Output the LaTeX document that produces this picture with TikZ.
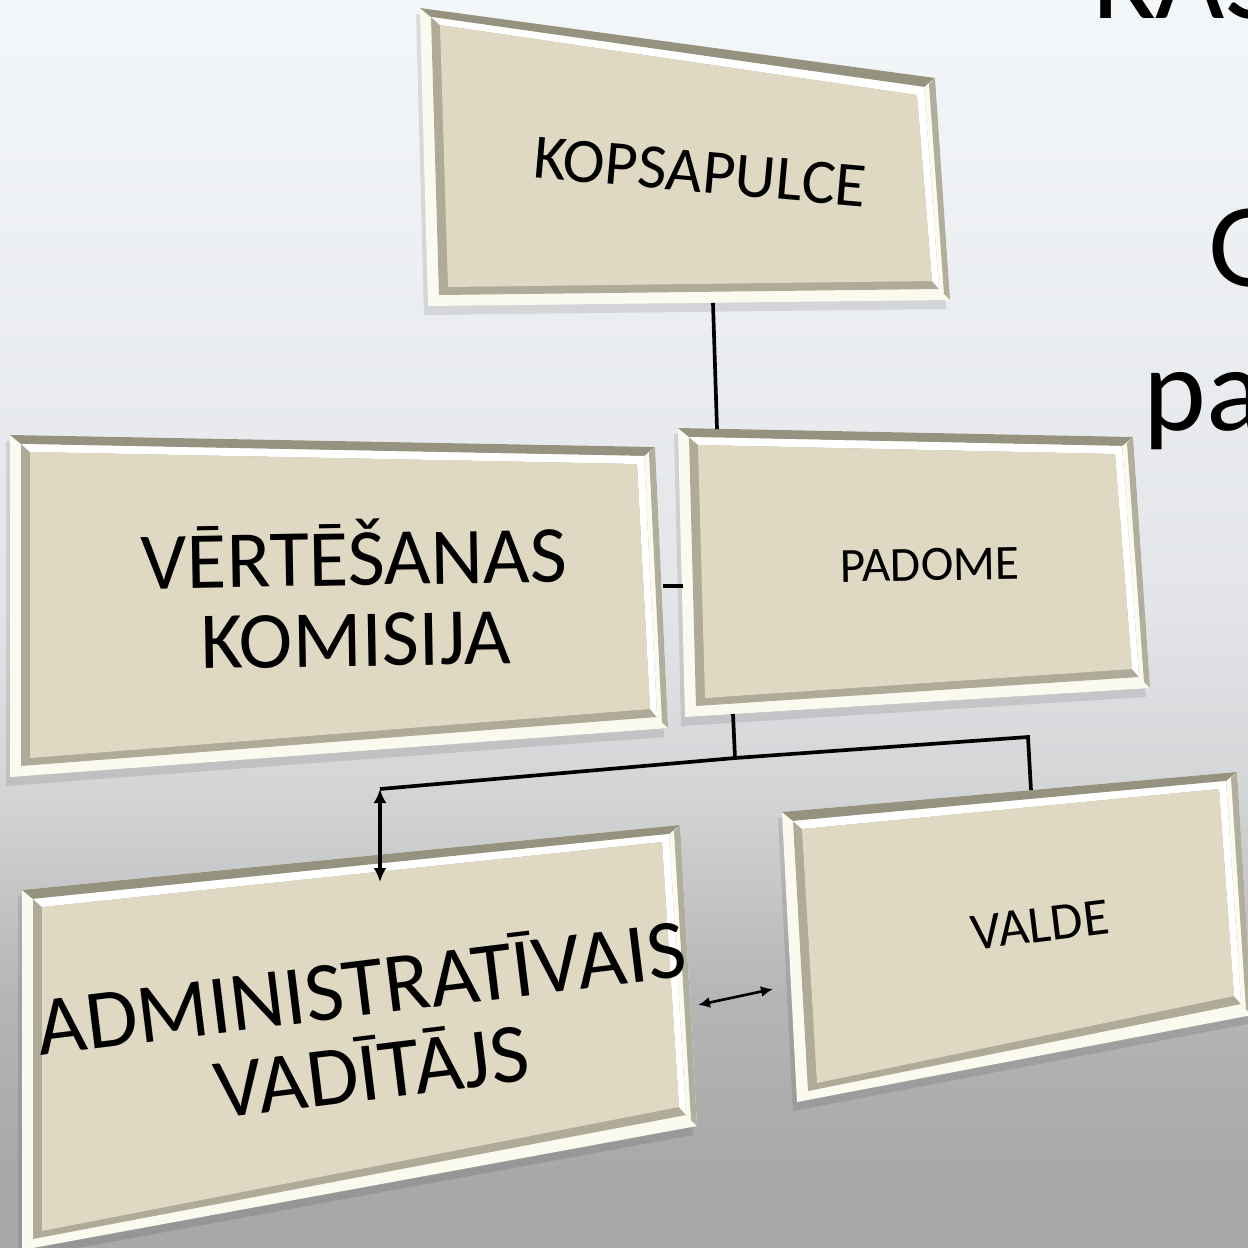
\documentclass[tikz,border=0pt]{standalone}
\usepackage{fontspec}
\setmainfont{Carlito}
\usetikzlibrary{calc,arrows.meta}

\definecolor{bgtop}{RGB}{244,247,250}
\definecolor{bgmid}{RGB}{227,229,232}
\definecolor{bglow}{RGB}{211,212,214}
\definecolor{bgdark}{RGB}{168,168,168}
\definecolor{framecream}{RGB}{251,250,238}
\definecolor{bandgray}{RGB}{150,146,128}
\definecolor{bandside}{RGB}{178,174,157}
\definecolor{beveldark}{RGB}{176,171,152}
\definecolor{panel}{RGB}{223,217,196}

\pgfdeclareverticalshading{slidebg}{100bp}{%
  color(0bp)=(bgdark); color(28bp)=(bgdark); color(35bp)=(bgdark!70!bglow);
  color(43bp)=(bglow); color(51bp)=(bgmid); color(75bp)=(bgtop); color(100bp)=(bgtop)}

% bevelled frame: name, top left, top right, bottom right, bottom left
\newcommand{\bevelbox}[5]{%
  \coordinate (#1-tl) at #2;
  \coordinate (#1-tr) at #3;
  \coordinate (#1-br) at #4;
  \coordinate (#1-bl) at #5;
  \fill[black, opacity=.10] ($(#1-tl)+(-4,6)$) -- ($(#1-tr)+(-4,6)$) -- ($(#1-br)+(-4,9)$) -- ($(#1-bl)+(-4,9)$) -- cycle;
  \fill[framecream] (#1-tl) -- (#1-tr) -- (#1-br) -- (#1-bl) -- cycle;
  \fill[bandgray] (#1-tl) -- (#1-tr) -- ($(#1-tr)+(-11,9)$) -- ($(#1-tl)+(11,9)$) -- cycle;
  \fill[bandside] (#1-tr) -- (#1-br) -- ($(#1-br)+(-6,-6)$) -- ($(#1-tr)+(-6,6)$) -- cycle;
  \fill[beveldark] ($(#1-tl)+(11,9)$) -- ($(#1-tr)+(-11,9)$) -- ($(#1-br)+(-11,-11)$) -- ($(#1-bl)+(11,-11)$) -- cycle;
  \fill[white] ($(#1-tl)+(11,9)$) -- ($(#1-tr)+(-11,9)$) -- ($(#1-br)+(-11,-11)$)
    -- ($(#1-br)+(-18,-19)$) -- ($(#1-tr)+(-18,17)$) -- ($(#1-tl)+(20,17)$) -- cycle;
  \fill[panel] ($(#1-tl)+(20,17)$) -- ($(#1-tr)+(-18,17)$) -- ($(#1-br)+(-18,-19)$) -- ($(#1-bl)+(20,-19)$) -- cycle;
}

\tikzset{
  boxtext/.style={text=black, inner sep=0pt, align=center},
  sidetext/.style={text=black, inner sep=0pt, anchor=base west, font=\fontsize{34}{34}\selectfont},
  conn/.style={line width=1.05pt},
  biarrow/.style={line width=1.05pt, {Latex[length=1.4mm,width=1.3mm]}-{Latex[length=1.4mm,width=1.3mm]}},
  sidearrow/.style={line width=0.75pt, {Latex[length=1.2mm,width=1.1mm]}-{Latex[length=1.2mm,width=1.1mm]}}
}

\begin{document}
\begin{tikzpicture}[x=0.01cm, y=-0.01cm]
      \useasboundingbox (0,0) rectangle (1248,1248);
      \clip (0,0) rectangle (1248,1248);

      % Background
      \shade[shading=slidebg] (0,0) rectangle (1248,1248);

      % Slide text behind the chart
      \node[sidetext] (kas) at (1093,18) {KAS};
      \node[sidetext] (gword) at (1208,286) {G};
      \node[sidetext] (paword) at (1143,430) {pa};

      % Boxes
      \bevelbox{kopbox}{(420,8)}{(935,78)}{(950,300)}{(428,306)}
      \bevelbox{padbox}{(678,428)}{(1133,437)}{(1150,688)}{(685,717)}
      \bevelbox{vertbox}{(10,435)}{(655,447)}{(668,728)}{(10,777)}
      \bevelbox{admbox}{(22,890)}{(680,825)}{(697,1126)}{(22,1250)}
      \bevelbox{valbox}{(782,812)}{(1237,772)}{(1252,1015)}{(797,1102)}

      % Labels
      \node[boxtext, rotate=-5, font=\fontsize{18}{18}\selectfont] (kop) at (700,172) {KOPSAPULCE};
      \node[boxtext, rotate=1, font=\fontsize{14}{14}\selectfont] (pad) at (930,565) {PADOME};
      \node[boxtext, rotate=1, font=\fontsize{23}{23}\selectfont] (vert) at (355,593) {VĒRTĒŠANAS\\KOMISIJA};
      \node[boxtext, rotate=7, font=\fontsize{24}{24}\selectfont] (admin) at (366,1026) {ADMINISTRATĪVAIS\\VADĪTĀJS};
      \node[boxtext, rotate=7, font=\fontsize{15}{15}\selectfont] (valde) at (1040,925) {VALDE};

      % Connection points
      \coordinate (kopdown) at (713,303);
      \coordinate (padup) at (717,429);
      \coordinate (vertright) at (663,586);
      \coordinate (padleft) at (683,586);
      \coordinate (paddown) at (733,714);
      \coordinate (junc) at (735,758);
      \coordinate (lcorner) at (380,789);
      \coordinate (rcorner) at (1028,737);
      \coordinate (valup) at (1031,790);
      \coordinate (admup) at (380,882);
      \coordinate (admright) at (698,1005);
      \coordinate (valleft) at (773,989);

      % Connectors
      \draw[conn] (kopdown) -- (padup);
      \draw[conn] (vertright) -- (padleft);
      \draw[conn] (paddown) -- (junc);
      \draw[conn] (lcorner) -- (junc) -- (rcorner) -- (valup);
      \draw[biarrow] (lcorner) -- (admup);
      \draw[sidearrow] (admright) -- (valleft);
    \end{tikzpicture}
\end{document}
